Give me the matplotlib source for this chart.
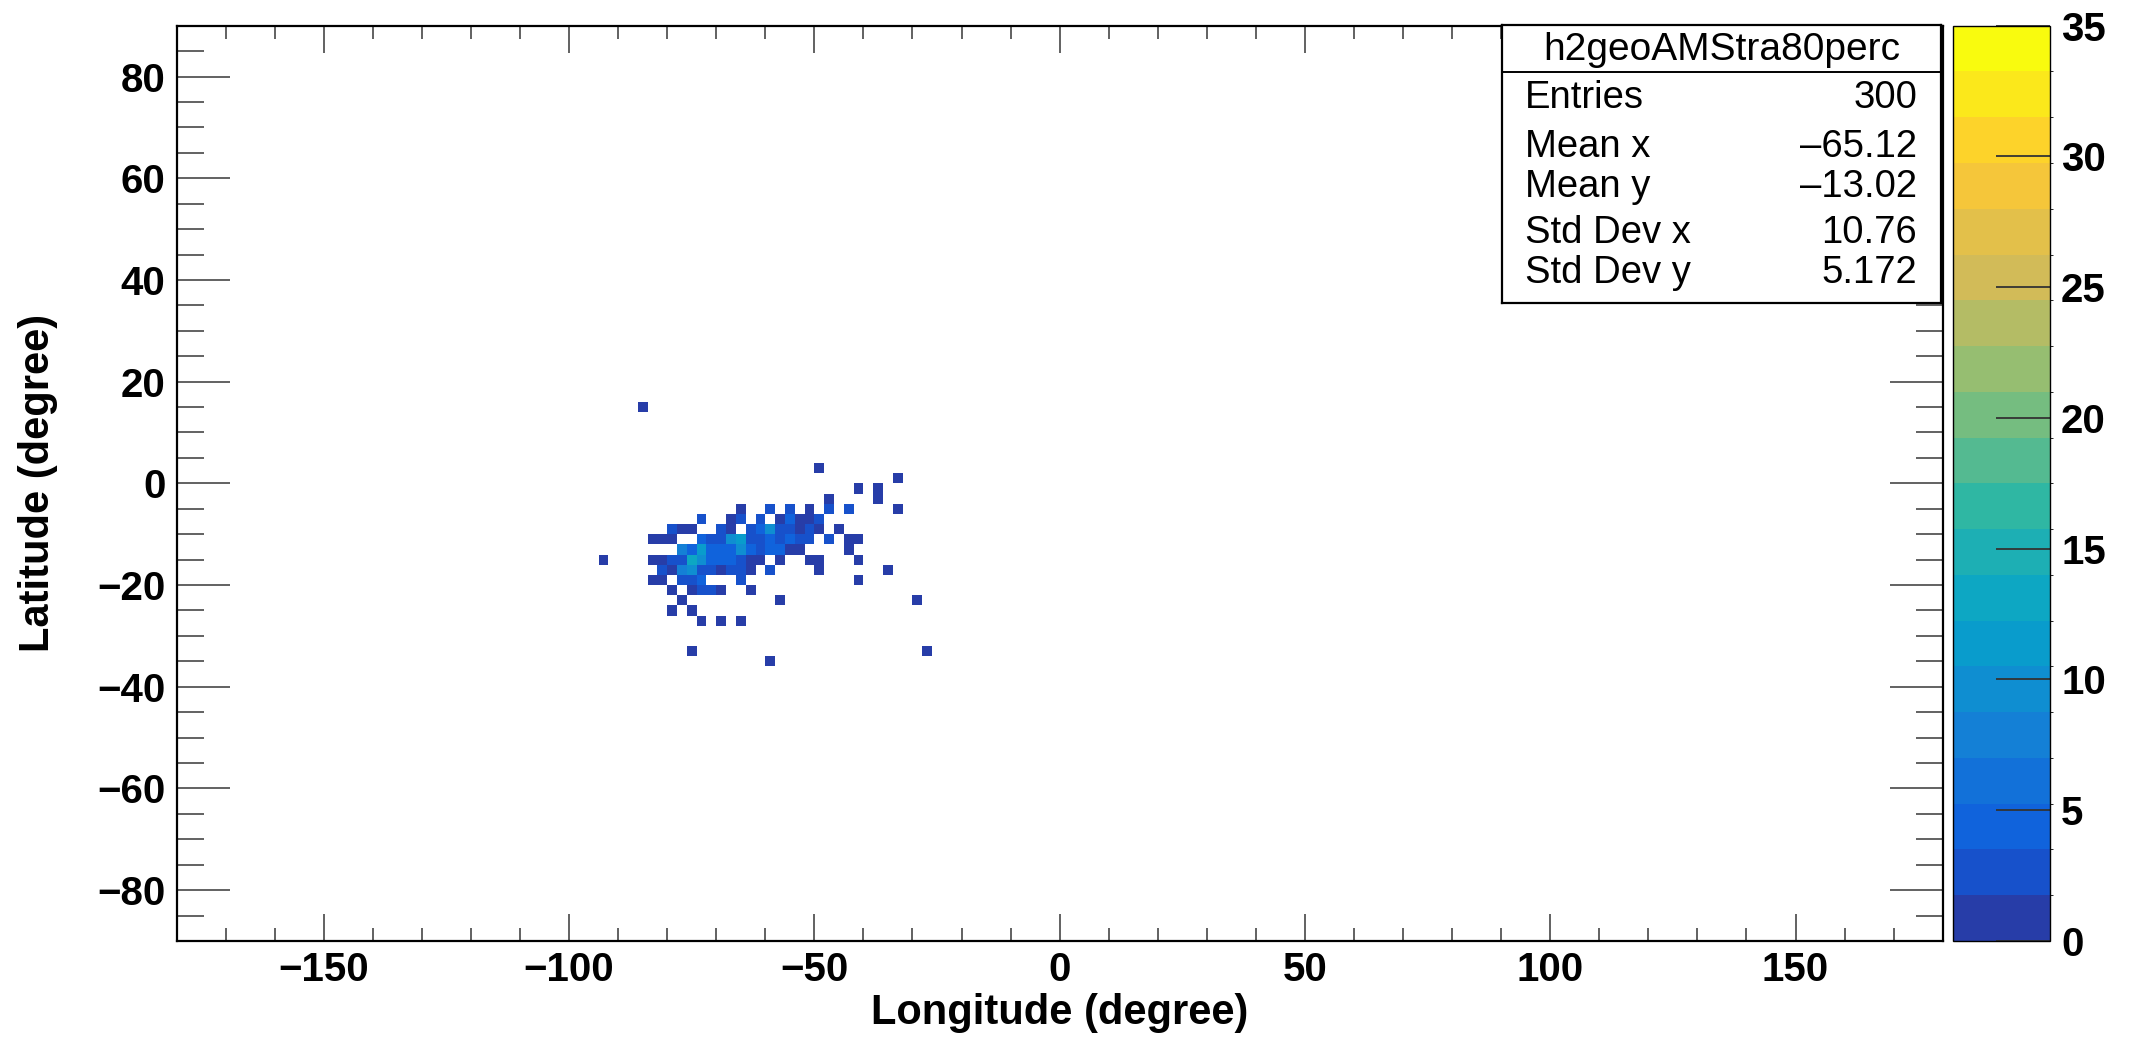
import numpy as np
import matplotlib
matplotlib.use("Agg")
import matplotlib.pyplot as plt
from matplotlib.colors import LinearSegmentedColormap, ListedColormap, BoundaryNorm
from matplotlib.ticker import MultipleLocator

plt.rcParams['font.family'] = ['Liberation Sans', 'DejaVu Sans']

# filled 2x2 degree bins: lower-left corner (lon, lat) and bin content
cell_lon = [-86,
            -50,
            -34,
            -42, -38,
            -48, -38,
            -66, -60, -56, -52, -48, -44, -34,
            -74, -68, -66, -62, -58, -56, -54, -52, -50,
            -80, -78, -76, -70, -68, -64, -62, -60, -58, -56, -54, -52, -50, -46,
            -84, -82, -80, -74, -72, -70, -68, -66, -64, -62, -60, -58, -56, -54, -52, -48, -44, -42,
            -78, -76, -74, -72, -70, -68, -66, -64, -62, -60, -58, -56, -54, -44,
            -94, -84, -82, -80, -78, -76, -74, -72, -70, -68, -66, -64, -62, -58, -52, -50, -42,
            -82, -80, -78, -76, -74, -72, -70, -68, -66, -64, -60, -50, -36,
            -84, -82, -78, -76, -74, -66, -42,
            -80, -76, -74, -72, -70, -64,
            -78, -58, -30,
            -80, -76,
            -74, -70, -66,
            -76, -28,
            -60]
cell_lat = [14,
            2,
            0,
            -2, -2,
            -4, -4,
            -6, -6, -6, -6, -6, -6, -6,
            -8, -8, -8, -8, -8, -8, -8, -8, -8,
            -10, -10, -10, -10, -10, -10, -10, -10, -10, -10, -10, -10, -10, -10,
            -12, -12, -12, -12, -12, -12, -12, -12, -12, -12, -12, -12, -12, -12, -12, -12, -12, -12,
            -14, -14, -14, -14, -14, -14, -14, -14, -14, -14, -14, -14, -14, -14,
            -16, -16, -16, -16, -16, -16, -16, -16, -16, -16, -16, -16, -16, -16, -16, -16, -16,
            -18, -18, -18, -18, -18, -18, -18, -18, -18, -18, -18, -18, -18,
            -20, -20, -20, -20, -20, -20, -20,
            -22, -22, -22, -22, -22, -22,
            -24, -24, -24,
            -26, -26,
            -28, -28, -28,
            -34, -34,
            -36]
cell_count = [1,
              1,
              1,
              1, 1,
              1, 1,
              1, 2, 2, 1, 2, 2, 1,
              2, 1, 2, 2, 1, 4, 1, 1, 2,
              2, 1, 1, 2, 1, 2, 4, 9, 2, 2, 1, 2, 1, 1,
              1, 1, 1, 4, 3, 3, 9, 11, 3, 3, 4, 3, 4, 3, 3, 2, 1, 1,
              7, 5, 11, 4, 4, 4, 9, 5, 3, 4, 5, 1, 1, 1,
              1, 1, 1, 3, 3, 13, 10, 4, 4, 4, 3, 1, 1, 1, 1, 1, 1,
              2, 1, 7, 10, 3, 3, 1, 3, 3, 1, 2, 1, 1,
              1, 1, 3, 2, 4, 2, 1,
              1, 1, 2, 2, 1, 1,
              1, 1, 1,
              1, 1,
              1, 1, 1,
              1, 1,
              1]

hist_name = "h2geoAMStra80perc"
stat_names = ["Entries", "Mean x", "Mean y", "Std Dev x", "Std Dev y"]
stat_values = ["300", "\u201365.12", "\u201313.02", "10.76", "5.172"]

z_levels = np.linspace(0, 35, 21)

# ROOT kBird palette
bird_pos = [0.0, 0.125, 0.25, 0.375, 0.5, 0.625, 0.75, 0.875, 1.0]
bird_r = [0.2082, 0.0592, 0.0780, 0.0232, 0.1802, 0.5301, 0.8186, 0.9956, 0.9764]
bird_g = [0.1664, 0.3599, 0.5041, 0.6419, 0.7178, 0.7492, 0.7328, 0.7862, 0.9832]
bird_b = [0.5293, 0.8684, 0.8385, 0.7914, 0.6425, 0.4662, 0.3499, 0.1968, 0.0539]
bird = LinearSegmentedColormap.from_list(
    "bird", list(zip(bird_pos, zip(bird_r, bird_g, bird_b))))
nband = len(z_levels) - 1
band_cols = [bird(int((i + 0.99) * 255 / nband) / 254) for i in range(nband)]
cmap = ListedColormap(band_cols)
norm = BoundaryNorm(z_levels, nband)

lon_edges = np.arange(-180, 181, 2)
lat_edges = np.arange(-90, 91, 2)
H, _, _ = np.histogram2d(np.array(cell_lon) + 1, np.array(cell_lat) + 1,
                         bins=[lon_edges, lat_edges], weights=cell_count)
H = np.ma.masked_equal(H.T, 0)

fig = plt.figure(figsize=(21.36, 10.37), dpi=100)
ax = fig.add_axes([0.0827, 0.0926, 0.8268, 0.8826])
mesh = ax.pcolormesh(lon_edges, lat_edges, H, cmap=cmap, norm=norm)

ax.set_xlim(-180, 180)
ax.set_ylim(-90, 90)
ax.xaxis.set_major_locator(MultipleLocator(50))
ax.xaxis.set_minor_locator(MultipleLocator(10))
ax.yaxis.set_major_locator(MultipleLocator(20))
ax.yaxis.set_minor_locator(MultipleLocator(5))
ax.tick_params(which='both', direction='in', top=True, right=True,
               color='#555555', width=1.3, labelsize=29)
ax.tick_params(axis='x', which='major', length=19.5, pad=7)
ax.tick_params(axis='x', which='minor', length=9.6)
ax.tick_params(axis='y', which='major', length=38, pad=8)
ax.tick_params(axis='y', which='minor', length=19.5)
for lbl in ax.get_xticklabels() + ax.get_yticklabels():
    lbl.set_fontweight('bold')
for s in ax.spines.values():
    s.set_linewidth(1.6)

ax.set_xlabel('Longitude (degree)', fontsize=30, fontweight='bold')
ax.xaxis.label.set_va('baseline')
ax.xaxis.set_label_coords(0.5, -0.0907)
ax.set_ylabel('Latitude (degree)', fontsize=30, fontweight='bold')
ax.yaxis.label.set_va('center')
ax.yaxis.set_label_coords(-0.0785, 0.5)

cax = fig.add_axes([0.9143, 0.0926, 0.0454, 0.8826])
cbar = fig.colorbar(mesh, cax=cax, ticks=np.arange(0, 36, 5))
cbar.outline.set_linewidth(1.0)
cax.tick_params(direction='in', length=39, width=1.3, color='#333333',
                labelsize=29, pad=8)
for lbl in cax.get_yticklabels():
    lbl.set_fontweight('bold')

# statistics box
sax = fig.add_axes([0.7032, 0.7078, 0.2056, 0.2681])
sax.set_xlim(0, 1)
sax.set_ylim(0, 1)
sax.set_xticks([])
sax.set_yticks([])
for s in sax.spines.values():
    s.set_linewidth(1.6)
sax.axhline(0.832, color='black', lw=1.4)
sax.text(0.5, 0.874, hist_name, ha='center', va='baseline', fontsize=28)
row_y = [0.701, 0.525, 0.381, 0.216, 0.072]
for name, val, yy in zip(stat_names, stat_values, row_y):
    sax.text(0.052, yy, name, ha='left', va='baseline', fontsize=27.5)
    sax.text(0.945, yy, val, ha='right', va='baseline', fontsize=27.5)

fig.savefig('out.png', dpi=100)
